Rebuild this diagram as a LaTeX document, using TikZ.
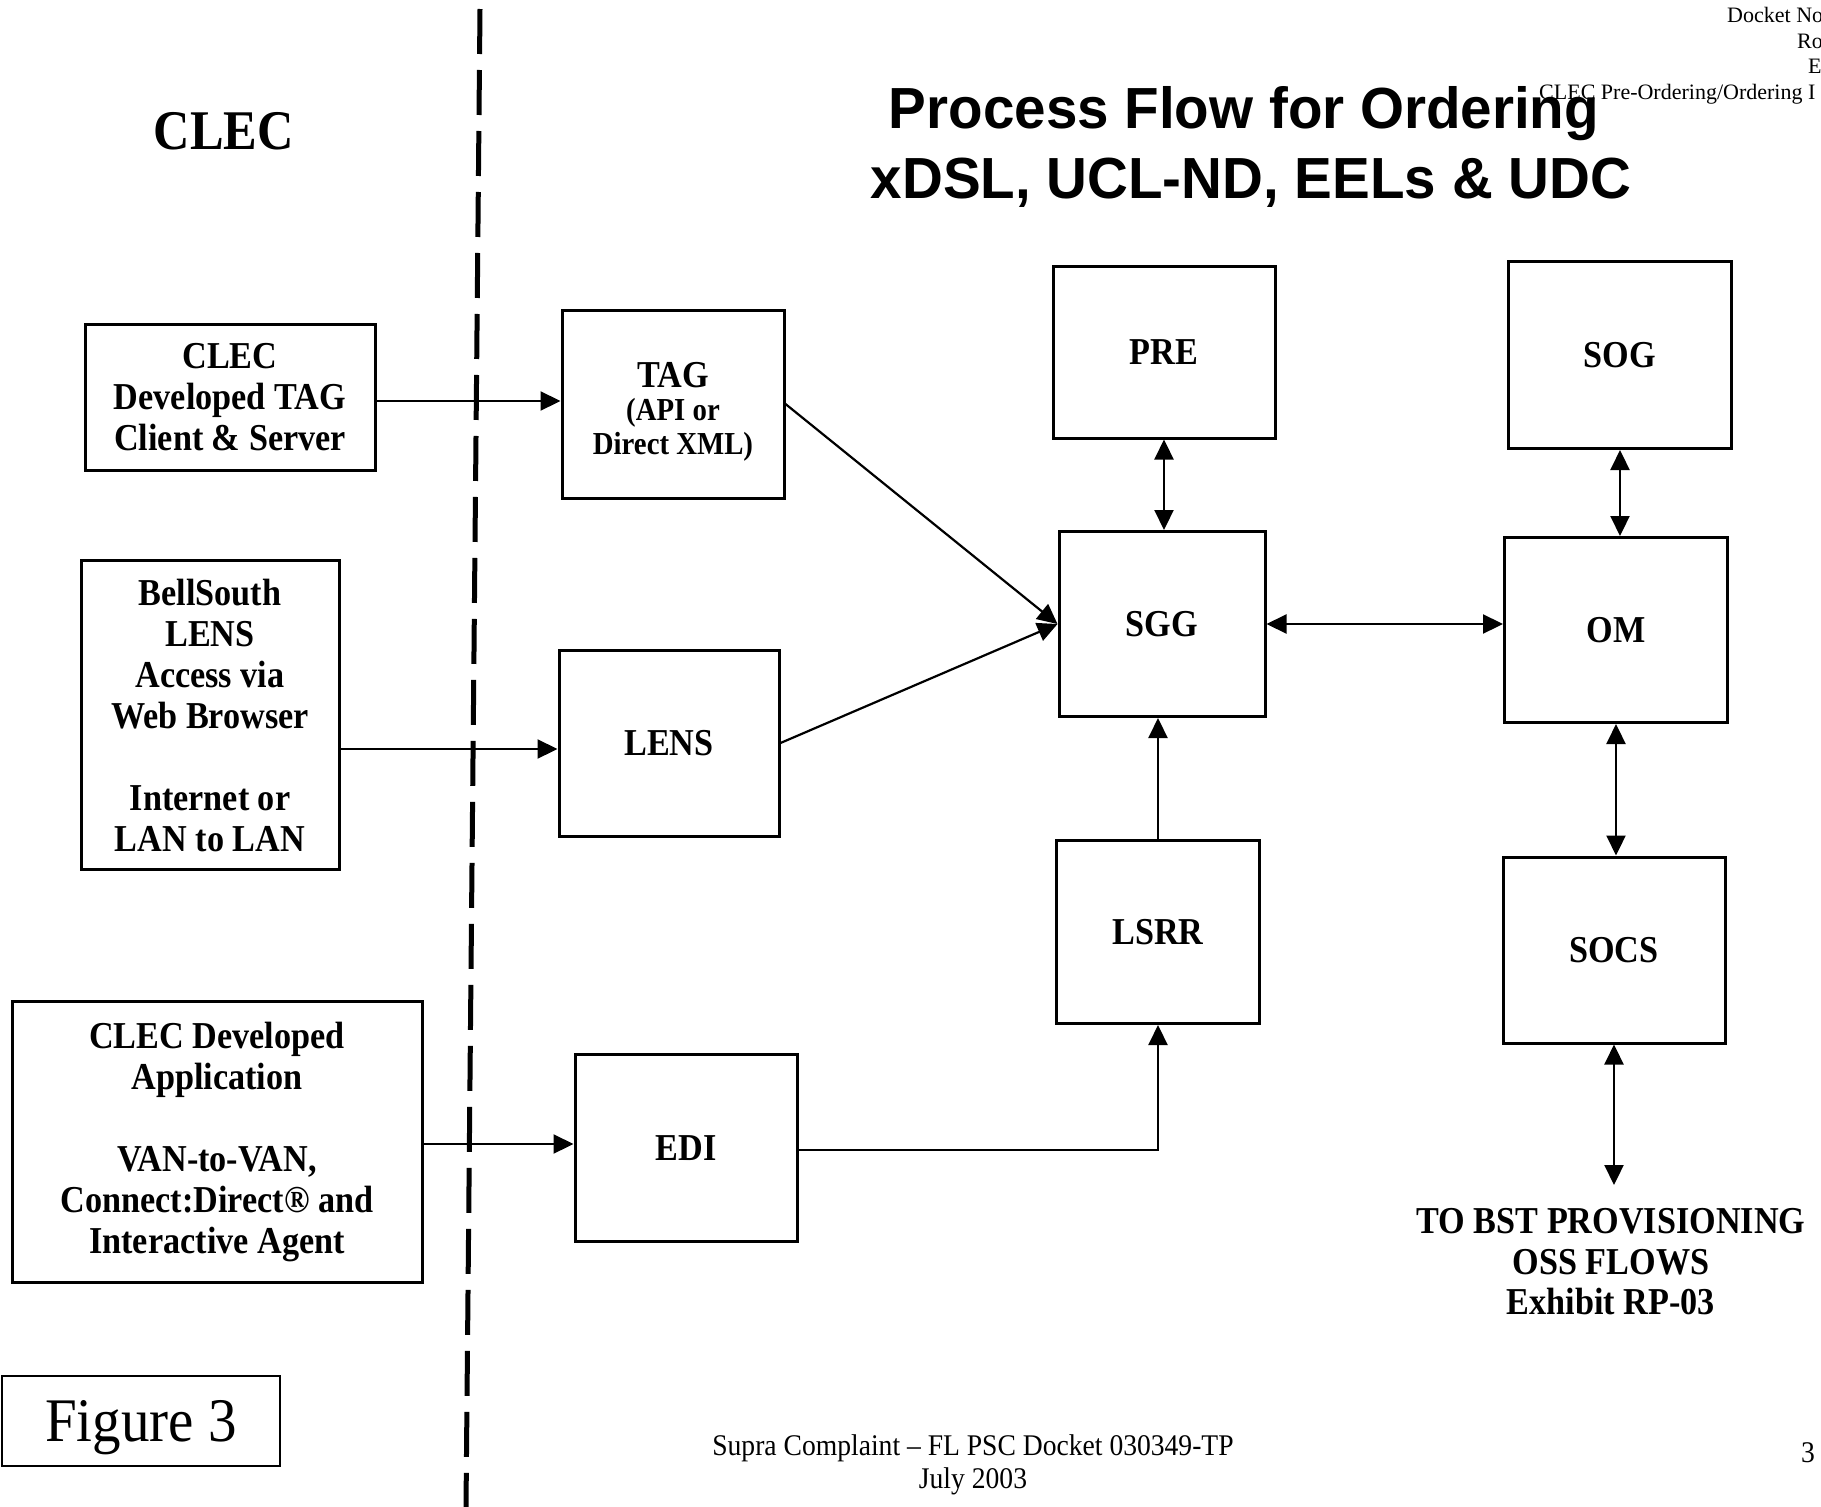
\documentclass[tikz,border=0pt]{standalone}
\usepackage{fontspec}
\usetikzlibrary{arrows.meta}
\setmainfont{Liberation Serif}
\newfontfamily\boxfont[FakeStretch=0.9,Ligatures=TeX]{Liberation Serif}
\newfontfamily\headfont[FakeStretch=0.975,Ligatures=TeX]{Liberation Sans}
\newfontfamily\notefont[FakeStretch=0.92,Ligatures=TeX]{Liberation Serif}
\tikzset{
  sysbox/.style={draw, line width=3pt, align=center, inner sep=0pt,
    font={\boxfont\bfseries\fontsize{38}{41}\selectfont}},
  conn/.style={line width=2.2pt, -{Triangle[length=20pt,width=19pt]}},
  biconn/.style={line width=2.2pt, {Triangle[length=20pt,width=19pt]}-{Triangle[length=20pt,width=19pt]}},
  divider/.style={line width=5pt, dash pattern=on 45pt off 16pt},
  hdr/.style={inner sep=0pt, font={\headfont\bfseries\fontsize{58}{70}\selectfont}},
  corner/.style={inner sep=0pt, anchor=base west, font={\fontsize{22}{25}\selectfont}},
  foot/.style={inner sep=0pt, anchor=base, font={\notefont\fontsize{30}{33}\selectfont}},
  plain/.style={inner sep=0pt, align=center, font={\boxfont\bfseries\fontsize{38}{40.5}\selectfont}}
}
\begin{document}
\begin{tikzpicture}[x=1pt,y=-1pt]
\useasboundingbox (0,0) rectangle (1821,1507);
\fill[white] (0,0) rectangle (1821,1507);

% divider
\coordinate (dtop) at (480,9);
\coordinate (dbot) at (466,1507);
\draw[divider] (dtop) -- (dbot);

% headings
\node[inner sep=0pt, anchor=base, font={\boxfont\bfseries\fontsize{56}{60}\selectfont}] (clechead) at (224,149) {CLEC};
\node[hdr, anchor=base] (title1) at (1244,128) {Process Flow for Ordering};
\node[hdr, anchor=base] (title2) at (1251,198) {xDSL, UCL-ND, EELs \& UDC};

% corner texts
\node[corner] (c1) at (1727,23) {Docket No};
\node[corner] (c2) at (1797,48) {Ro};
\node[corner] (c3) at (1808,73) {E};
\node[corner] (c4) at (1539,99) {CLEC Pre-Ordering/Ordering I};

% left column
\node[sysbox, minimum width=290pt, minimum height=146pt] (clectag) at (230,397) {CLEC\\Developed TAG\\Client \& Server};
\node[sysbox, minimum width=258pt, minimum height=309pt] (bell) at (210,715) {BellSouth\\LENS\\Access via\\Web Browser\\[41pt]Internet or\\LAN to LAN};
\node[sysbox, minimum width=410pt, minimum height=281pt] (app) at (217,1142) {CLEC Developed\\Application\\[41pt]VAN-to-VAN,\\Connect:Direct\textregistered{} and\\Interactive Agent};

% middle column
\node[sysbox, minimum width=222pt, minimum height=188pt,
  font={\boxfont\bfseries\fontsize{32}{34}\selectfont}] (tag) at (673,404)
  {\rule{0pt}{40pt}{\fontsize{38}{41}\selectfont TAG}\\[-1pt](API or\\Direct XML)};
\node[sysbox, minimum width=220pt, minimum height=186pt] (lens) at (669,743) {LENS};
\node[sysbox, minimum width=222pt, minimum height=187pt] (edi) at (686,1148) {EDI};

% gateway column
\node[sysbox, minimum width=222pt, minimum height=172pt] (pre) at (1164,352) {PRE};
\node[sysbox, minimum width=206pt, minimum height=185pt] (sgg) at (1162,624) {SGG};
\node[sysbox, minimum width=203pt, minimum height=183pt] (lsrr) at (1158,932) {LSRR};

% right column
\node[sysbox, minimum width=223pt, minimum height=187pt] (sog) at (1620,355) {SOG};
\node[sysbox, minimum width=223pt, minimum height=185pt] (om) at (1616,630) {OM};
\node[sysbox, minimum width=222pt, minimum height=186pt] (socs) at (1614,950) {SOCS};

\node[plain] (bst) at (1611,1262) {TO BST PROVISIONING\\OSS FLOWS\\Exhibit RP-03};
\coordinate (bsttip) at (1612,1185);

% figure label
\node[draw, line width=2.5pt, minimum width=278pt, minimum height=90pt, inner sep=0pt,
  text depth=0pt, font={\notefont\fontsize{62}{66}\selectfont}] (fig) at (141,1421) {Figure 3};

% footer
\node[foot] (foot1) at (973,1455) {Supra Complaint \textendash{} FL PSC Docket 030349-TP};
\node[foot] (foot2) at (973,1488) {July 2003};
\node[foot] (pagenum) at (1808,1462) {3};

% connectors
\draw[conn] ([yshift=-4pt]clectag.east) -- ([yshift=-4pt]clectag.east -| tag.west);
\draw[conn] ([yshift=-6pt]bell.east |- lens.west) -- ([yshift=-6pt]lens.west);
\draw[conn] ([yshift=-2pt]app.east) -- ([yshift=-2pt]app.east -| edi.west);
\draw[conn] (tag.east) -- (sgg.west);
\draw[conn] (lens.east) -- (sgg.west);
\draw[conn] ([yshift=-2pt]edi.east) -| (lsrr.south);
\draw[conn] (lsrr.north) -- (lsrr.north |- sgg.south);
\draw[biconn] (pre.south) -- (pre.south |- sgg.north);
\draw[biconn] (sgg.east) -- (sgg.east -| om.west);
\draw[biconn] (sog.south) -- (sog.south |- om.north);
\draw[biconn] (om.south) -- (om.south |- socs.north);
\draw[biconn] (socs.south) -- (socs.south |- bsttip);
\end{tikzpicture}
\end{document}
